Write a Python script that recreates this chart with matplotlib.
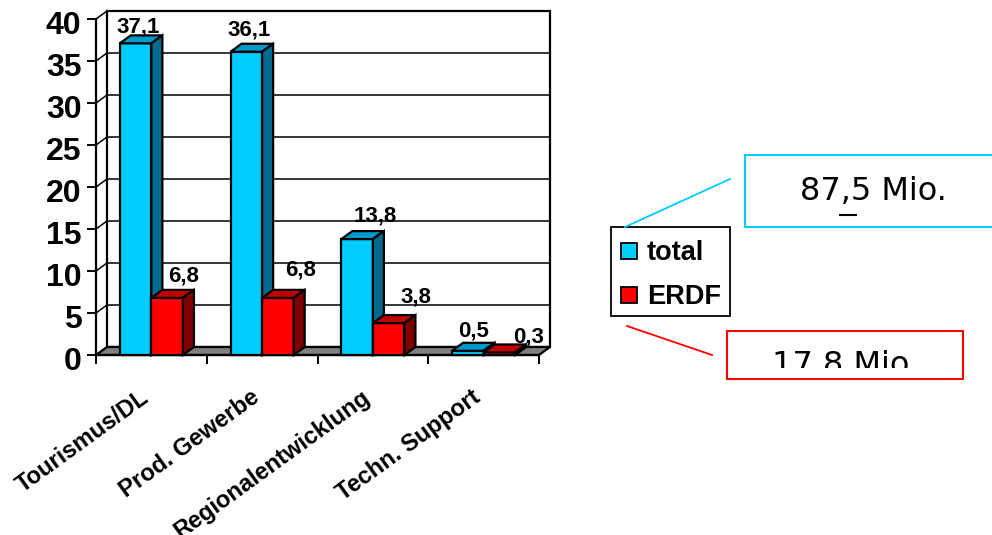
import matplotlib
matplotlib.use("Agg")
import matplotlib.pyplot as plt
from matplotlib.patches import Polygon, Rectangle
from matplotlib.transforms import ScaledTranslation

plt.rcParams['font.family'] = ['Liberation Sans', 'DejaVu Sans']
plt.rcParams['font.weight'] = 'bold'

categories = ['Tourismus/DL', 'Prod. Gewerbe', 'Regionalentwicklung', 'Techn. Support']
total = [37.1, 36.1, 13.8, 0.5]
erdf = [6.8, 6.8, 3.8, 0.3]
total_labels = ['37,1', '36,1', '13,8', '0,5']
erdf_labels = ['6,8', '6,8', '3,8', '0,3']
y_ticks = [0, 5, 10, 15, 20, 25, 30, 35, 40]

W, H = 992, 535
fig = plt.figure(figsize=(W / 100, H / 100), dpi=100)
ax = fig.add_axes([96 / W, (H - 355) / H, 443 / W, 336 / H])
ax.set_xlim(0, 4)
ax.set_ylim(0, 40)

# depth of the fake 3d box, in data units
dx = 11 / 110.75
dy = 8 / 8.4
bar_w = 0.285
lw = 1.6

# back wall, grid and floor
ax.add_patch(Rectangle((dx, dy), 4, 40, fc='white', ec='black', lw=lw, clip_on=False, zorder=1))
for v in y_ticks[1:-1]:
    ax.plot([dx, 4 + dx], [v + dy, v + dy], color='black', lw=1.1, clip_on=False, zorder=1.5)
for v in y_ticks:
    ax.plot([0, dx], [v, v + dy], color='black', lw=1.1, clip_on=False, zorder=1.5)
ax.add_patch(Polygon([(0, 0), (4, 0), (4 + dx, dy), (dx, dy)], fc='#808080', ec='black',
                     lw=lw, clip_on=False, zorder=2))


def draw_bar(x, v, front, top, side, order):
    ax.bar(x, v, width=bar_w, align='edge', color=front, edgecolor='black', linewidth=lw,
           clip_on=False, zorder=order)
    ax.add_patch(Polygon([(x, v), (x + bar_w, v), (x + bar_w + dx, v + dy), (x + dx, v + dy)],
                         fc=top, ec='black', lw=lw, clip_on=False, zorder=order))
    ax.add_patch(Polygon([(x + bar_w, 0), (x + bar_w + dx, dy), (x + bar_w + dx, v + dy), (x + bar_w, v)],
                         fc=side, ec='black', lw=lw, clip_on=False, zorder=order))


for i in range(len(categories)):
    draw_bar(i + 0.5 - bar_w, total[i], '#00CCFF', '#0099CC', '#006B8F', 3 + i * 2)
    draw_bar(i + 0.5, erdf[i], '#FF0000', '#C00000', '#800000', 4 + i * 2)

# value labels, nudged by hand in pixels like the original
total_off = [(3, -2), (3, 3), (18, 5), (6, 1)]
erdf_off = [(16, 3), (23, 9), (27, 8), (29, -3)]
for i in range(len(categories)):
    ax.annotate(total_labels[i], (i + 0.5 - bar_w / 2, total[i] + dy), xytext=total_off[i],
                textcoords='offset pixels', ha='center', va='bottom', fontsize=16,
                annotation_clip=False, zorder=20)
    ax.annotate(erdf_labels[i], (i + 0.5 + bar_w / 2, erdf[i] + dy), xytext=erdf_off[i],
                textcoords='offset pixels', ha='center', va='bottom', fontsize=16,
                annotation_clip=False, zorder=20)

# axes
for s in ['top', 'right']:
    ax.spines[s].set_visible(False)
for s in ['left', 'bottom']:
    ax.spines[s].set_linewidth(lw)
    ax.spines[s].set_zorder(2.5)
ax.set_facecolor('none')
ax.set_yticks(y_ticks)
ax.set_yticklabels([str(v) for v in y_ticks], fontsize=23)
ax.tick_params(axis='y', length=6.5, width=1.4, pad=4)
ax.set_xticks([0, 1, 2, 3, 4])
ax.set_xticklabels([])
ax.tick_params(axis='x', which='major', length=6.5, width=1.4)
ax.set_xticks([i + 0.5 for i in range(4)], minor=True)
ax.set_xticklabels(categories, minor=True, rotation=36, ha='right', rotation_mode='anchor', fontsize=17)
ax.tick_params(axis='x', which='minor', length=0, pad=22)

# tick labels sit a little off their ticks in the original
for lab in ax.get_yticklabels():
    lab.set_transform(lab.get_transform() + ScaledTranslation(0, -3 / 100, fig.dpi_scale_trans))
for lab in ax.get_xticklabels(minor=True):
    lab.set_transform(lab.get_transform() + ScaledTranslation(-12 / 100, 0, fig.dpi_scale_trans))

# legend and the two boxes, in pixel coords
ov = fig.add_axes([0, 0, 1, 1], zorder=30)
ov.set_xlim(0, W)
ov.set_ylim(H, 0)
ov.axis('off')

ov.add_patch(Rectangle((611, 227), 119, 89, fc='white', ec='black', lw=1.3))
ov.add_patch(Rectangle((621, 243), 16, 16, fc='#00CCFF', ec='black', lw=1.3))
ov.add_patch(Rectangle((621, 287), 16, 16, fc='#FF0000', ec='black', lw=1.3))
ov.text(647, 253, 'total', fontsize=19.5, va='center')
ov.text(647, 297, 'ERDF', fontsize=19.5, va='center')

ov.plot([625, 730], [227, 179], color='#00CCFF', lw=1.3)
ov.plot([627, 712], [326, 355], color='#FF0000', lw=1.3)

ov.add_patch(Rectangle((745, 155), 260, 72, fc='white', ec='#00CCFF', lw=1.5, clip_on=False))
ov.text(873, 191, '87,5 Mio.', family='DejaVu Sans', fontweight='normal', fontsize=23,
        ha='center', va='center')
ov.plot([840, 856], [215, 215], color='black', lw=1.5)

ov.add_patch(Rectangle((727, 331), 236, 48, fc='white', ec='#FF0000', lw=1.5))
t = ov.text(845, 366, '17,8 Mio.', family='DejaVu Sans', fontweight='normal', fontsize=23,
            ha='center', va='center')
t.set_clip_on(True)
t.set_clip_path(Rectangle((727, 331), 236, 37, transform=ov.transData))

fig.savefig('out.png', dpi=100)
